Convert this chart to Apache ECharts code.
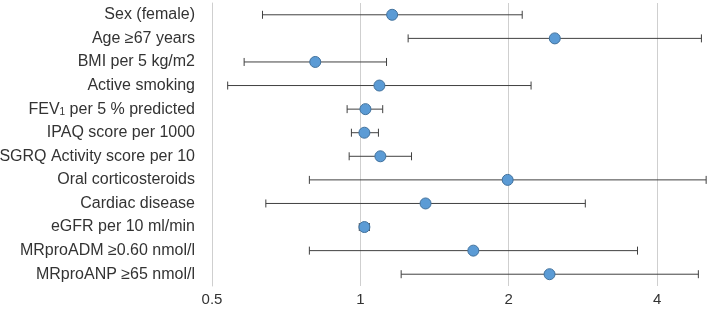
<!DOCTYPE html>
<html>
<head>
<meta charset="utf-8">
<script src="https://cdn.jsdelivr.net/npm/echarts@6/dist/echarts.min.js"></script>
<style>
  html, body { margin: 0; padding: 0; background: #fff; }
  #chart { width: 707px; height: 311px; }
</style>
</head>
<body>
<div id="chart"></div>
<script>
const categories = [
  'Sex (female)', 'Age ≥67 years', 'BMI per 5 kg/m2', 'Active smoking',
  'FEV{sub|1} per 5 % predicted', 'IPAQ score per 1000', 'SGRQ Activity score per 10',
  'Oral corticosteroids', 'Cardiac disease', 'eGFR per 10 ml/min',
  'MRproADM ≥0.60 nmol/l', 'MRproANP ≥65 nmol/l'
]
const estimates = [1.16, 2.48, 0.81, 1.093, 1.024, 1.019, 1.098, 1.99, 1.356, 1.019, 1.695, 2.42]
const lower = [0.633, 1.25, 0.581, 0.538, 0.94, 0.959, 0.949, 0.788, 0.643, 0.995, 0.788, 1.21]
const upper = [2.13, 4.92, 1.13, 2.22, 1.11, 1.088, 1.27, 5.03, 2.86, 1.043, 3.65, 4.85]

const chart = echarts.init(document.getElementById('chart'))

const ciData = categories.map((c, i) => [lower[i], upper[i], i])
const pointData = categories.map((c, i) => [estimates[i], i])
const font = 'Liberation Sans, Arial, sans-serif'

chart.setOption({
  animation: false,
  grid: { left: 212, right: 0, top: 3, bottom: 25, outerBoundsMode: 'none', containLabel: false },
  xAxis: {
    type: 'log',
    logBase: 2,
    min: 0.5,
    max: 5.05,
    interval: 1,
    axisLine: { show: false },
    axisTick: { show: false },
    axisLabel: {
      color: '#333',
      fontFamily: font,
      fontSize: 15,
      margin: 6,
      showMaxLabel: false,
      formatter: v => (Math.abs(v - 0.5) < 1e-6 ? '0.5' : String(Math.round(v)))
    },
    splitLine: { show: true, showMaxLine: false, lineStyle: { color: '#cfcfcf', width: 1 } }
  },
  yAxis: {
    type: 'category',
    data: categories,
    inverse: true,
    axisLine: { show: true, lineStyle: { color: '#cfcfcf' } },
    axisTick: { show: false },
    splitLine: { show: false },
    axisLabel: {
      color: '#333',
      fontFamily: font,
      fontSize: 16,
      margin: 17,
      rich: {
        sub: { fontSize: 10, verticalAlign: 'bottom', padding: [7, 0, 0, 0], color: '#333', fontFamily: font }
      }
    }
  },
  series: [
    {
      type: 'custom',
      data: ciData,
      encode: { x: [0, 1], y: 2 },
      clip: false,
      renderItem: (params, api) => {
        const lo = api.coord([api.value(0), api.value(2)])
        const hi = api.coord([api.value(1), api.value(2)])
        const h = 4
        const style = { stroke: '#404040', lineWidth: 1 }
        return {
          type: 'group',
          children: [
            { type: 'line', shape: { x1: lo[0], y1: lo[1], x2: hi[0], y2: hi[1] }, style },
            { type: 'line', shape: { x1: lo[0], y1: lo[1] - h, x2: lo[0], y2: lo[1] + h }, style },
            { type: 'line', shape: { x1: hi[0], y1: hi[1] - h, x2: hi[0], y2: hi[1] + h }, style }
          ]
        }
      },
      z: 2
    },
    {
      type: 'scatter',
      data: pointData,
      symbolSize: 11,
      itemStyle: { color: '#5b9bd5', borderColor: '#41719c', borderWidth: 1, opacity: 1 },
      z: 3
    }
  ]
})
</script>
</body>
</html>
